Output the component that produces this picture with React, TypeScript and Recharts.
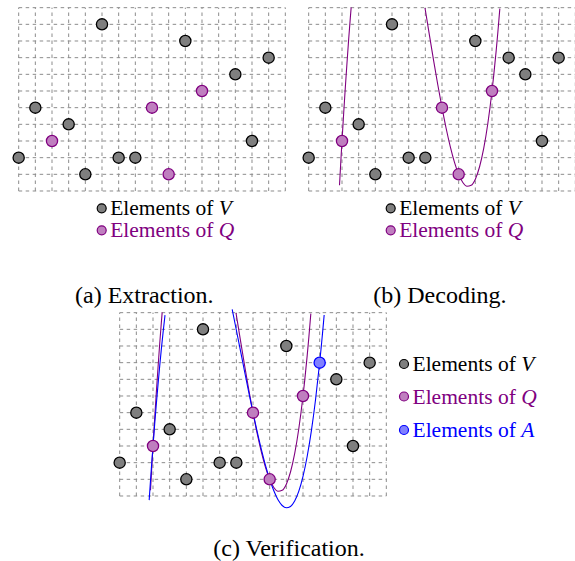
import { ComposedChart, Line, ReferenceLine, Scatter, XAxis, YAxis } from "recharts";

// grid of the field plane: 17 columns, 12 rows
const gridXs = [0, 1, 2, 3, 4, 5, 6, 7, 8, 9, 10, 11, 12, 13, 14, 15, 16];
const gridYs = [0, 1, 2, 3, 4, 5, 6, 7, 8, 9, 10, 11];

const elementsV = [
  { x: 5, y: 10 },
  { x: 10, y: 9 },
  { x: 15, y: 8 },
  { x: 13, y: 7 },
  { x: 1, y: 5 },
  { x: 3, y: 4 },
  { x: 14, y: 3 },
  { x: 0, y: 2 },
  { x: 6, y: 2 },
  { x: 7, y: 2 },
  { x: 4, y: 1 },
];
const elementsQ = [
  { x: 2, y: 3 },
  { x: 8, y: 5 },
  { x: 11, y: 6 },
  { x: 9, y: 1 },
];
const elementsA = [{ x: 12, y: 8 }];

// decoded curve (purple)
const decodedLeft = [
  { x: 1.85, y: 0.34 },
  { x: 1.9, y: 1.25 },
  { x: 1.95, y: 2.14 },
  { x: 2, y: 3 },
  { x: 2.1, y: 4.66 },
  { x: 2.2, y: 6.23 },
  { x: 2.3, y: 7.7 },
  { x: 2.4, y: 9.1 },
  { x: 2.5, y: 10.4 },
  { x: 2.55, y: 11.02 },
];
const decodedRight = [
  { x: 6.98, y: 10.98 },
  { x: 7, y: 10.86 },
  { x: 7.25, y: 9.32 },
  { x: 7.5, y: 7.81 },
  { x: 7.75, y: 6.36 },
  { x: 8, y: 5 },
  { x: 8.25, y: 3.75 },
  { x: 8.5, y: 2.65 },
  { x: 8.75, y: 1.72 },
  { x: 9, y: 1 },
  { x: 9.25, y: 0.51 },
  { x: 9.5, y: 0.28 },
  { x: 9.75, y: 0.34 },
  { x: 10, y: 0.71 },
  { x: 10.25, y: 1.44 },
  { x: 10.5, y: 2.54 },
  { x: 10.75, y: 4.05 },
  { x: 11, y: 6 },
  { x: 11.1, y: 6.91 },
  { x: 11.25, y: 8.41 },
  { x: 11.35, y: 9.51 },
  { x: 11.47, y: 10.94 },
];

// verified curve (blue)
const verifiedLeft = [
  { x: 1.77, y: -0.25 },
  { x: 1.8, y: 0.2 },
  { x: 1.9, y: 1.64 },
  { x: 2, y: 3 },
  { x: 2.1, y: 4.3 },
  { x: 2.2, y: 5.52 },
  { x: 2.3, y: 6.68 },
  { x: 2.4, y: 7.78 },
  { x: 2.5, y: 8.81 },
  { x: 2.6, y: 9.77 },
  { x: 2.72, y: 10.85 },
];
const verifiedRight = [
  { x: 6.75, y: 11.2 },
  { x: 7, y: 9.96 },
  { x: 7.25, y: 8.71 },
  { x: 7.5, y: 7.44 },
  { x: 7.75, y: 6.2 },
  { x: 8, y: 5 },
  { x: 8.25, y: 3.86 },
  { x: 8.5, y: 2.8 },
  { x: 8.75, y: 1.84 },
  { x: 9, y: 1 },
  { x: 9.25, y: 0.31 },
  { x: 9.5, y: -0.23 },
  { x: 9.75, y: -0.57 },
  { x: 10, y: -0.71 },
  { x: 10.25, y: -0.63 },
  { x: 10.5, y: -0.3 },
  { x: 10.75, y: 0.29 },
  { x: 11, y: 1.18 },
  { x: 11.25, y: 2.37 },
  { x: 11.5, y: 3.89 },
  { x: 11.75, y: 5.76 },
  { x: 12, y: 8 },
  { x: 12.1, y: 9.0 },
  { x: 12.2, y: 10.07 },
  { x: 12.27, y: 10.86 },
];

const UNIT = 50 / 3;
const CHART_W = UNIT * 18;
const CHART_H = UNIT * 13;

const GRAY = "#7f7f7f";
const PURPLE = "#800080";
const PURPLE_FILL = "#bf7fbf";
const BLUE = "#0000ff";
const BLUE_FILL = "#8080ff";

const dot = (fill: string, stroke: string) => (props: any) =>
  <circle cx={props.cx} cy={props.cy} r={5.6} fill={fill} stroke={stroke} strokeWidth={1.3} />;

type Curve = { data: { x: number; y: number }[]; color: string };

type PanelProps = {
  left: number;
  top: number;
  gray: { x: number; y: number }[];
  purple: { x: number; y: number }[];
  blue?: { x: number; y: number }[];
  curves: Curve[];
};

function Panel({ left, top, gray, purple, blue, curves }: PanelProps) {
  return (
    <div style={{ position: "absolute", left, top }}>
      <ComposedChart width={CHART_W} height={CHART_H} margin={{ top: 0, right: 0, bottom: 0, left: 0 }}>
        <XAxis type="number" dataKey="x" domain={[-1, 17]} allowDataOverflow hide />
        <YAxis type="number" dataKey="y" domain={[-1, 12]} allowDataOverflow hide />
        {gridXs.map((gx) => (
          <ReferenceLine
            key={`vx${gx}`}
            segment={[{ x: gx, y: 0 }, { x: gx, y: 11 }]}
            stroke="#8c8c8c"
            strokeWidth={1}
            strokeDasharray="3.5 3.5"
            ifOverflow="visible"
          />
        ))}
        {gridYs.map((gy) => (
          <ReferenceLine
            key={`hy${gy}`}
            segment={[{ x: 0, y: gy }, { x: 16, y: gy }]}
            stroke="#8c8c8c"
            strokeWidth={1}
            strokeDasharray="3.5 3.5"
            ifOverflow="visible"
          />
        ))}
        <Scatter data={gray} shape={dot(GRAY, "#000")} isAnimationActive={false} />
        <Scatter data={purple} shape={dot(PURPLE_FILL, PURPLE)} isAnimationActive={false} />
        {blue && <Scatter data={blue} shape={dot(BLUE_FILL, BLUE)} isAnimationActive={false} />}
        {curves.map((c, i) => (
          <Line
            key={i}
            data={c.data}
            dataKey="y"
            type="monotone"
            stroke={c.color}
            strokeWidth={1.1}
            dot={false}
            activeDot={false}
            isAnimationActive={false}
          />
        ))}
      </ComposedChart>
    </div>
  );
}

type LegendRow = { sym: string; color: string; fill: string; stroke: string; cy: number };

function LegendRows({ x, rows }: { x: number; rows: LegendRow[] }) {
  return (
    <g>
      {rows.map((r) => (
        <g key={r.sym}>
          <circle cx={x} cy={r.cy} r={4.5} fill={r.fill} stroke={r.stroke} strokeWidth={1.2} />
          <text x={x + 8.5} y={r.cy + 7} fill={r.color} fontSize={21.5} fontFamily="Liberation Serif">
            Elements of <tspan fontStyle="italic">{r.sym}</tspan>
          </text>
        </g>
      ))}
    </g>
  );
}

export default function App() {
  const legendAB = (cy: number): LegendRow[] => [
    { sym: "V", color: "#000", fill: GRAY, stroke: "#000", cy },
    { sym: "Q", color: PURPLE, fill: PURPLE_FILL, stroke: PURPLE, cy: cy + 22 },
  ];
  const legendC: LegendRow[] = [
    { sym: "V", color: "#000", fill: GRAY, stroke: "#000", cy: 364 },
    { sym: "Q", color: PURPLE, fill: PURPLE_FILL, stroke: PURPLE, cy: 396.5 },
    { sym: "A", color: BLUE, fill: BLUE_FILL, stroke: BLUE, cy: 430 },
  ];
  return (
    <div style={{ position: "absolute", left: 0, top: 0, width: 575, height: 561, overflow: "hidden", background: "#fff" }}>
      <style>{`#root, #root div, #root text, #root tspan { font-family: "Liberation Serif", "Times New Roman", Tinos; }`}</style>
      <Panel left={18.33 - UNIT} top={7.33 - UNIT} gray={elementsV} purple={elementsQ} curves={[]} />
      <Panel
        left={308.33 - UNIT}
        top={7.33 - UNIT}
        gray={[...elementsV, ...elementsA]}
        purple={elementsQ}
        curves={[
          { data: decodedLeft, color: PURPLE },
          { data: decodedRight, color: PURPLE },
        ]}
      />
      <Panel
        left={120 - UNIT}
        top={312.67 - UNIT}
        gray={elementsV}
        purple={elementsQ}
        blue={elementsA}
        curves={[
          { data: decodedLeft, color: PURPLE },
          { data: decodedRight, color: PURPLE },
          { data: verifiedLeft, color: BLUE },
          { data: verifiedRight, color: BLUE },
        ]}
      />
      <svg width={575} height={561} style={{ position: "absolute", left: 0, top: 0, pointerEvents: "none" }}>
        <LegendRows x={101.7} rows={legendAB(208.3)} />
        <LegendRows x={390.7} rows={legendAB(208.3)} />
        <LegendRows x={404} rows={legendC} />
        <text x={75} y={303} fontSize={24} fontFamily="Liberation Serif">(a) Extraction.</text>
        <text x={373.3} y={303} fontSize={24} fontFamily="Liberation Serif">(b) Decoding.</text>
        <text x={213.3} y={556} fontSize={24} fontFamily="Liberation Serif">(c) Verification.</text>
      </svg>
    </div>
  );
}
